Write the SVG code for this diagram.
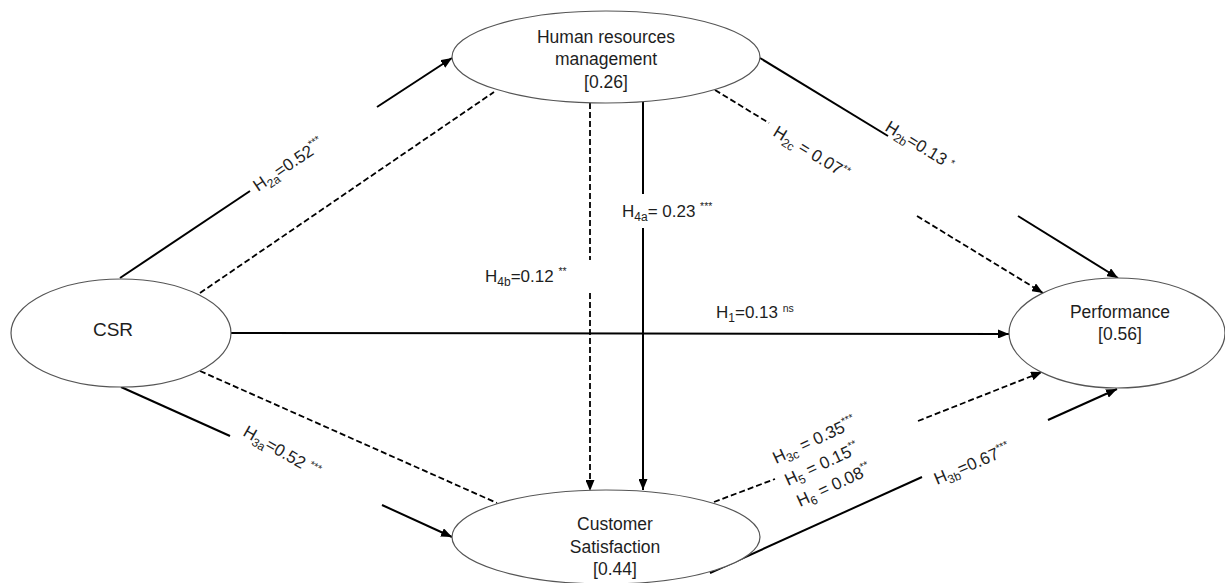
<svg xmlns="http://www.w3.org/2000/svg" width="1225" height="583" viewBox="0 0 1225 583">
<style>
.node{fill:#fff;stroke:#555;stroke-width:1.2}
.nt{font-family:"Liberation Sans",Arial,sans-serif;font-size:17.5px;fill:#1e1e1e;text-anchor:middle}
.lb{font-family:"Liberation Sans",Arial,sans-serif;font-size:17px;fill:#1e1e1e}
.sub{font-size:12px}
.sup{font-size:10.5px}
.s{stroke:#000;stroke-width:2;fill:none}
.d{stroke:#000;stroke-width:1.8;fill:none;stroke-dasharray:6,3}
</style>
<defs>
<marker id="ah" markerUnits="userSpaceOnUse" markerWidth="11" markerHeight="9" refX="11" refY="4.5" orient="auto">
<path d="M0,0 L11,4.5 L0,9 z" fill="#000"/>
</marker>
</defs>
<g id="connectors">
<line class="s" x1="120" y1="278" x2="250" y2="191"/>
<line class="s" x1="377" y1="107" x2="452" y2="58" marker-end="url(#ah)"/>
<line class="d" x1="200" y1="293" x2="494" y2="92"/>
<line class="d" x1="590" y1="103" x2="590" y2="260"/>
<line class="d" x1="590" y1="293" x2="590" y2="491" marker-end="url(#ah)"/>
<line class="s" x1="643" y1="102" x2="643" y2="194"/>
<line class="s" x1="643" y1="228" x2="643" y2="490" marker-end="url(#ah)"/>
<line class="d" x1="715" y1="90" x2="769" y2="123"/>
<line class="d" x1="917" y1="216" x2="1043" y2="293" marker-end="url(#ah)"/>
<line class="s" x1="760" y1="58" x2="888" y2="136"/>
<line class="s" x1="1018" y1="216" x2="1118" y2="278" marker-end="url(#ah)"/>
<line class="s" x1="231" y1="333" x2="1009" y2="334" marker-end="url(#ah)"/>
<line class="d" x1="200" y1="371" x2="497" y2="503"/>
<line class="s" x1="121" y1="387" x2="230" y2="436"/>
<line class="s" x1="382" y1="505" x2="452" y2="537" marker-end="url(#ah)"/>
<line class="d" x1="714" y1="502" x2="775" y2="479"/>
<line class="d" x1="918" y1="421" x2="1042" y2="372" marker-end="url(#ah)"/>
<line class="s" x1="710" y1="573" x2="922" y2="477"/>
<line class="s" x1="1048" y1="420" x2="1117" y2="389" marker-end="url(#ah)"/>
</g>
<g id="labels">
<text class="lb" transform="translate(258,192) rotate(-34)">H<tspan class="sub" dy="4">2a</tspan><tspan dy="-4">=0.52</tspan><tspan class="sup" dy="-7">***</tspan></text>
<text class="lb" transform="translate(772,135) rotate(31.5)">H<tspan class="sub" dy="4">2c</tspan><tspan dy="-4"> = 0.07</tspan><tspan class="sup" dy="-6">**</tspan></text>
<text class="lb" transform="translate(884,130) rotate(31.5)">H<tspan class="sub" dy="4">2b</tspan><tspan dy="-4">=0.13 </tspan><tspan class="sup" dy="-4">*</tspan></text>
<text class="lb" x="622" y="217">H<tspan class="sub" dy="4">4a</tspan><tspan dy="-4">= 0.23 </tspan><tspan class="sup" dy="-7">***</tspan></text>
<text class="lb" x="485" y="282">H<tspan class="sub" dy="4">4b</tspan><tspan dy="-4">=0.12 </tspan><tspan class="sup" dy="-7">**</tspan></text>
<text class="lb" x="716" y="318">H<tspan class="sub" dy="4">1</tspan><tspan dy="-4">=0.13 </tspan><tspan class="sup" dy="-6">ns</tspan></text>
<text class="lb" transform="translate(242,435) rotate(30)">H<tspan class="sub" dy="4">3a</tspan><tspan dy="-4">=0.52 </tspan><tspan class="sup" dy="-6">***</tspan></text>
<text class="lb" transform="translate(776,464) rotate(-25)">H<tspan class="sub" dy="4">3c</tspan><tspan dy="-4"> = 0.35</tspan><tspan class="sup" dy="-7">***</tspan></text>
<text class="lb" transform="translate(788,486) rotate(-25)">H<tspan class="sub" dy="4">5</tspan><tspan dy="-4"> = 0.15</tspan><tspan class="sup" dy="-7">**</tspan></text>
<text class="lb" transform="translate(800,507) rotate(-25)">H<tspan class="sub" dy="4">6</tspan><tspan dy="-4"> = 0.08</tspan><tspan class="sup" dy="-7">**</tspan></text>
<text class="lb" transform="translate(937,485) rotate(-23)">H<tspan class="sub" dy="4">3b</tspan><tspan dy="-4">=0.67</tspan><tspan class="sup" dy="-7">***</tspan></text>
</g>
<g id="node-hrm">
<ellipse class="node" cx="606" cy="57" rx="154" ry="46"/>
<text class="nt" x="606" y="43">Human resources</text>
<text class="nt" x="606" y="65">management</text>
<text class="nt" x="606" y="88">[0.26]</text>
</g>
<g id="node-csr">
<ellipse class="node" cx="121" cy="333" rx="110" ry="54"/>
<text class="nt" x="113" y="336" style="font-size:19px">CSR</text>
</g>
<g id="node-performance">
<ellipse class="node" cx="1117" cy="333" rx="108" ry="55"/>
<text class="nt" x="1120" y="318">Performance</text>
<text class="nt" x="1120" y="340">[0.56]</text>
</g>
<g id="node-cs">
<ellipse class="node" cx="606" cy="537" rx="154" ry="47"/>
<text class="nt" x="615" y="530">Customer</text>
<text class="nt" x="615" y="553">Satisfaction</text>
<text class="nt" x="615" y="575">[0.44]</text>
</g>
</svg>
